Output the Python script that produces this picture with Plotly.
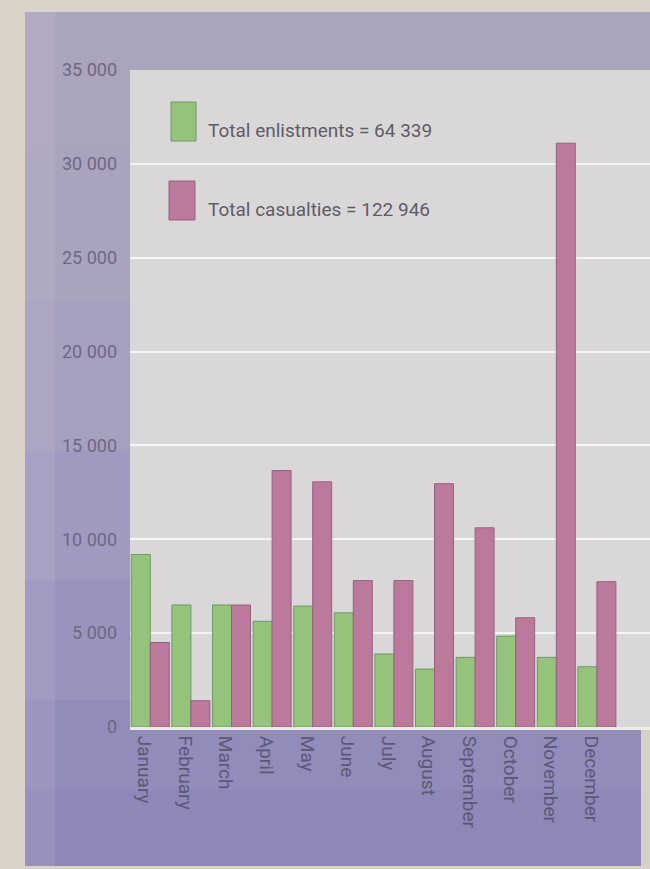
import plotly.graph_objects as go

months = ["January", "February", "March", "April", "May", "June", "July",
          "August", "September", "October", "November", "December"]
enlistments = [9190, 6500, 6500, 5630, 6440, 6080, 3890, 3090, 3710, 4840, 3710, 3210]
casualties = [4500, 1400, 6500, 13660, 13060, 7800, 7800, 12960, 10610, 5820, 31100, 7740]
total_enlistments_label = "Total enlistments = 64 339"
total_casualties_label = "Total casualties = 122 946"
y_ticks = [0, 5000, 10000, 15000, 20000, 25000, 30000, 35000]
y_ticktext = ["0", "5 000", "10 000", "15 000", "20 000", "25 000", "30 000", "35 000"]

GREEN = "#96c37c"
GREEN_EDGE = "#6c9866"
PINK = "#bb7a9b"
PINK_EDGE = "#98607f"
FONT = "Roboto, Arial, sans-serif"

W, H = 650, 869
L, R, T, B = 130, 0, 70, 142
pw = W - L - R
ph = H - T - B


def px_x(p):
    return (p - L) / pw


def px_y(p):
    return (H - B - p) / ph


fig = go.Figure()
fig.add_trace(go.Bar(x=months, y=enlistments, name="Enlistments",
                     marker=dict(color=GREEN, line=dict(color=GREEN_EDGE, width=1))))
fig.add_trace(go.Bar(x=months, y=casualties, name="Casualties",
                     marker=dict(color=PINK, line=dict(color=PINK_EDGE, width=1))))

shapes = []
# purple panel bands (background decoration)
bands = [(12, 150, "#aba4bd"), (150, 300, "#a9a3be"), (300, 450, "#a6a0bf"),
         (450, 580, "#a09ac0"), (580, 700, "#9993bd"), (700, 790, "#928cba"),
         (790, 866, "#8e88b8")]
for y0, y1, c in bands:
    shapes.append(dict(type="rect", xref="paper", yref="paper",
                       x0=px_x(25), x1=px_x(652), y0=px_y(y1), y1=px_y(y0),
                       fillcolor=c, line=dict(width=0), layer="below"))
# lighter left edge of the panel
shapes.append(dict(type="rect", xref="paper", yref="paper",
                   x0=px_x(25), x1=px_x(55), y0=px_y(866), y1=px_y(12),
                   fillcolor="rgba(220,215,230,0.12)", line=dict(width=0), layer="below"))
# right page edge at the bottom
shapes.append(dict(type="rect", xref="paper", yref="paper",
                   x0=px_x(641), x1=px_x(652), y0=px_y(869), y1=px_y(727),
                   fillcolor="#d6d0c6", line=dict(width=0), layer="below"))
# plot area
shapes.append(dict(type="rect", xref="paper", yref="paper",
                   x0=0, x1=1, y0=0, y1=1,
                   fillcolor="#dad7d8", line=dict(width=0), layer="below"))
# legend swatches
shapes.append(dict(type="rect", xref="paper", yref="paper",
                   x0=px_x(171), x1=px_x(196), y0=px_y(141), y1=px_y(102),
                   fillcolor=GREEN, line=dict(color=GREEN_EDGE, width=1)))
shapes.append(dict(type="rect", xref="paper", yref="paper",
                   x0=px_x(169), x1=px_x(195), y0=px_y(220), y1=px_y(181),
                   fillcolor=PINK, line=dict(color=PINK_EDGE, width=1)))

annotations = [
    dict(xref="paper", yref="paper", x=px_x(206), y=px_y(130), xanchor="left", yanchor="middle",
         text=total_enlistments_label, showarrow=False,
         font=dict(family=FONT, size=19, color="#5f5b68")),
    dict(xref="paper", yref="paper", x=px_x(206), y=px_y(209), xanchor="left", yanchor="middle",
         text=total_casualties_label, showarrow=False,
         font=dict(family=FONT, size=19, color="#5f5b68")),
]

fig.update_layout(
    width=W, height=H,
    margin=dict(l=L, r=R, t=T, b=B, pad=0),
    paper_bgcolor="#d9d3c9",
    plot_bgcolor="rgba(0,0,0,0)",
    barmode="group",
    bargap=0.065,
    bargroupgap=0.0,
    showlegend=False,
    shapes=shapes,
    annotations=annotations,
    font=dict(family=FONT),
)
fig.update_xaxes(
    type="category",
    range=[-0.5, -0.5 + pw / 40.6],
    tickangle=90,
    ticks="",
    ticklabelstandoff=2,
    ticklabelshift=-6,
    tickfont=dict(family=FONT, size=19, color="#5c5776"),
    showgrid=False,
    showline=True, linecolor="#ecebe6", linewidth=3,
)
fig.update_yaxes(
    range=[0, 35000],
    tickvals=y_ticks,
    ticktext=y_ticktext,
    ticks="",
    ticklabelstandoff=12,
    tickfont=dict(family=FONT, size=18, color="#6d6884"),
    showgrid=True, gridcolor="rgba(248,248,248,0.9)", gridwidth=2,
    zeroline=False,
    showline=False,
)

fig.write_html("out.html", config={"displayModeBar": False},
               post_script="document.body.style.margin='0';")
